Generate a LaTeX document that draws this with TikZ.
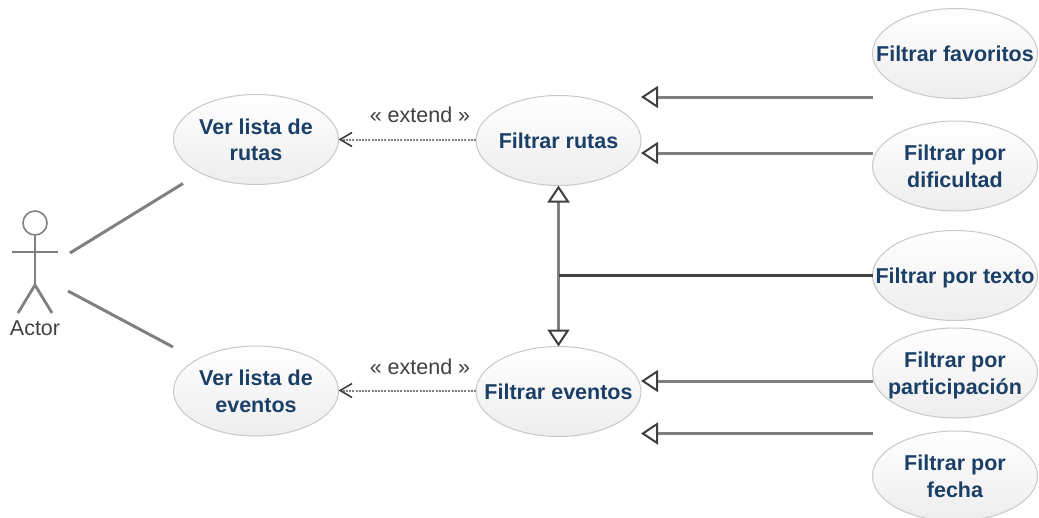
\documentclass[tikz,border=0pt]{standalone}
\usepackage{fontspec}
\setmainfont{Liberation Sans}
\usepackage{xcolor}
\usetikzlibrary{arrows.meta}
\usetikzlibrary{positioning,shapes.geometric}
\definecolor{casetext}{HTML}{1B3F66}
\definecolor{caseline}{HTML}{C8C8C8}
\definecolor{linkgray}{HTML}{808080}
\definecolor{tipgray}{HTML}{404040}
\tikzset{
  usecase/.style={ellipse, draw=caseline, line width=1pt, top color=white, bottom color=black!7,
    minimum width=165pt, minimum height=90pt, inner xsep=-30pt, inner ysep=-10pt, outer sep=0pt, align=center,
    text depth=0pt, text=casetext, font=\bfseries\fontsize{21.5}{26.5}\selectfont},
  assoc/.style={draw=linkgray, line width=3pt},
  genlink/.style={draw=linkgray, line width=3pt, -{Triangle[open, fill=white, length=17pt, width=22pt, line width=2pt, color=tipgray]}},
  extlink/.style={draw=linkgray, line width=2pt, dash pattern=on 2pt off 1.2pt, -{Straight Barb[length=12pt, width=14pt, line width=1.6pt, color=tipgray, line cap=butt, sep=0pt]}},
  extlabel/.style={text=black!75, font=\fontsize{21.5}{26}\selectfont, inner sep=0pt},
  actorline/.style={draw=linkgray, line width=2.8pt}
}
\begin{document}
\begin{tikzpicture}[x=1pt, y=-1pt]
  \useasboundingbox (0,0) rectangle (1039,517);
  % use cases
  \node [usecase] (verrutas) at (256,139.5) {Ver lista de\\rutas};
  \node [usecase] (vereventos) at (256,391) {Ver lista de\\eventos};
  \node [usecase] (rutas) at (558.5,140.5) {Filtrar rutas};
  \node [usecase] (eventos) at (558.5,391.5) {Filtrar eventos};
  \node [usecase] (favoritos) at (955,53.5) {Filtrar favoritos};
  \node [usecase] (dificultad) at (955,166) {Filtrar por\\dificultad};
  \node [usecase] (texto) at (955,275.5) {Filtrar por texto};
  \node [usecase] (participacion) at (955,373) {Filtrar por\\participación};
  \node [usecase] (fecha) at (955,476) {Filtrar por\\fecha};

  % actor
  \node [circle, draw=linkgray, line width=1.6pt, minimum size=24pt, inner sep=0pt] (head) at (35,223) {};
  \coordinate (hip) at (35,285);
  \coordinate (armleft) at (12,252);
  \coordinate (armright) at (58,252);
  \coordinate (legleft) at (18,313);
  \coordinate (legright) at (52,313);
  \draw [actorline] (head.south) -- (hip);
  \draw [actorline] (armleft) -- (armright);
  \draw [actorline] (legleft) -- (hip) -- (legright);
  \node [text=black!75, font=\fontsize{21.5}{26}\selectfont, inner sep=0pt] (actor) at (35,328) {Actor};

  % associations
  \coordinate (actorup) at (70,253);
  \coordinate (actordown) at (68,291);
  \coordinate (casetop) at (183,183.5);
  \coordinate (casebottom) at (173,347);
  \draw [assoc] (actorup) -- (casetop);
  \draw [assoc] (actordown) -- (casebottom);

  % extend
  \draw [extlink] ([yshift=1pt]rutas.west) -- (verrutas.east);
  \draw [extlink] ([yshift=1pt]eventos.west) -- ([yshift=0.5pt]vereventos.east);
  \node [extlabel] (extendup) at (420,115) {« extend »};
  \node [extlabel] (extenddown) at (420,366.5) {« extend »};

  % generalizations
  \draw [genlink] ([yshift=-43.5pt]favoritos.west) -- ([yshift=43.5pt]rutas.east);
  \draw [genlink] ([yshift=13pt]dificultad.west) -- ([yshift=-12.5pt]rutas.east);
  \draw [genlink] ([yshift=-8pt]participacion.west) -- ([yshift=10.5pt]eventos.east);
  \draw [genlink] ([yshift=42.5pt]fecha.west) -- ([yshift=-42pt]eventos.east);
  \coordinate (junction) at (rutas.south |- texto.west);
  \draw [genlink] (junction) -- (rutas.south);
  \draw [genlink] (junction) -- (eventos.north);
  \draw [draw=black!75, line width=3pt] (texto.west) -- (junction);
\end{tikzpicture}
\end{document}
